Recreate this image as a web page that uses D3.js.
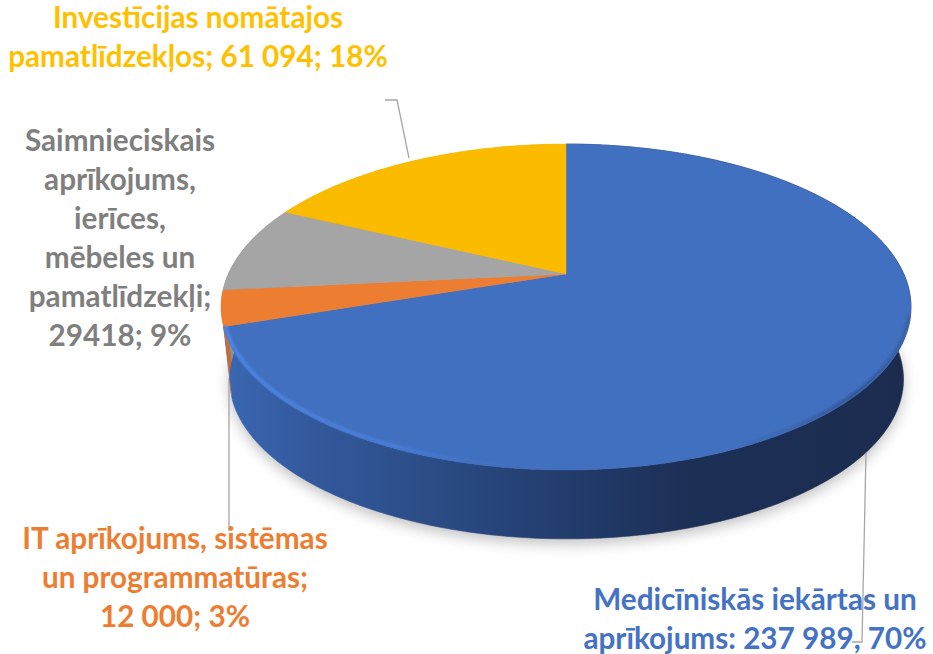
<!DOCTYPE html>
<html><head><meta charset="utf-8">
<style>html,body{margin:0;background:#fff}svg{display:block}text{font-family:Lato,"Open Sans",sans-serif;font-weight:700;text-anchor:middle}</style>
<script src="https://cdn.jsdelivr.net/npm/d3@7"></script></head><body>
<script>
const categories = ["Medicīniskās iekārtas un aprīkojums","IT aprīkojums, sistēmas un programmatūras","Saimnieciskais aprīkojums, ierīces, mēbeles un pamatlīdzekļi","Investīcijas nomātajos pamatlīdzekļos"];
const values = [237989,12000,29418,61094];
const colors = ["#4270C0","#ED7D31","#A5A5A5","#FBBC00"];
const labelColors = ["#4472C4","#ED7D31","#7F7F7F","#FFC000"];
const labelLines = [
 ["Medicīniskās iekārtas un","aprīkojums: 237 989, 70%"],
 ["IT aprīkojums, sistēmas","un programmatūras;","12 000; 3%"],
 ["Saimnieciskais","aprīkojums,","ierīces,","mēbeles un","pamatlīdzekļi;","29418; 9%"],
 ["Investīcijas nomātajos","pamatlīdzekļos; 61 094; 18%"]];

const W=933,H=654;
const svg=d3.select("body").append("svg").attr("width",W).attr("height",H);
const defs=svg.append("defs");
defs.append("filter").attr("id","soft").attr("x","-10%").attr("y","-10%").attr("width","120%").attr("height","120%")
  .append("feGaussianBlur").attr("stdDeviation",7);
defs.append("filter").attr("id","rimblur").append("feGaussianBlur").attr("stdDeviation",1.1);
const side=defs.append("linearGradient").attr("id","side").attr("gradientUnits","userSpaceOnUse")
  .attr("x1",228).attr("x2",908).attr("y1",0).attr("y2",0);
[[0,"#3A66B2"],[0.12,"#33599C"],[0.3,"#2B4C86"],[0.5,"#223C6C"],[0.68,"#1C2F55"],[1,"#1B2C4F"]]
  .forEach(s=>side.append("stop").attr("offset",s[0]).attr("stop-color",s[1]));
const rim=defs.append("linearGradient").attr("id","rim").attr("gradientUnits","userSpaceOnUse")
  .attr("x1",226).attr("x2",910).attr("y1",0).attr("y2",0);
[[0,"#4D86E6",1],[0.25,"#4A7FDC",0.85],[0.42,"#4472C4",0],[0.75,"#1F3560",0],[0.92,"#1F3560",0.45],[1,"#1F3560",0.25]]
  .forEach(s=>rim.append("stop").attr("offset",s[0]).attr("stop-color",s[1]).attr("stop-opacity",s[2]));

// perspective projection of the disc: angle (clockwise from the top) -> screen
const k=0.2025;
const project=(cx,cy,A,B)=>t=>{const w=1+k*Math.cos(t);return [cx+A*Math.sin(t)/w, cy-B*Math.cos(t)/w];};
const topFace=project(566,274,337.8,156.3);
const bottomFace=project(566.5,347,330,153);

// the pie starts at 12 o'clock, clockwise
const arcs=d3.pie().sort(null).value(d=>d)(values);
const samples=(a,b)=>{const n=Math.max(2,Math.ceil((b-a)/0.01));return d3.range(n+1).map(i=>a+(b-a)*i/n);};
const line=d3.line();

// soft shadow
svg.append("path").attr("d",line(samples(0,2*Math.PI).map(t=>{const p=bottomFace(t);return [p[0],p[1]+5];}))+"Z")
  .attr("fill","#8c8c8c").attr("opacity",0.55).attr("filter","url(#soft)");

// leader lines
const leaders=[[[866,453],[862,642],[852,642]],[[229,378],[229,531]],[[409,158],[397,100],[385,100]]];
svg.append("g").selectAll("path").data(leaders).join("path").attr("d",line).attr("fill","none")
  .attr("stroke","#A6A6A6").attr("stroke-width",1.3);

// sides
svg.append("g").selectAll("path").data(arcs).join("path")
  .attr("d",d=>{const s=samples(d.startAngle,d.endAngle);return line(s.map(topFace).concat(s.slice().reverse().map(bottomFace)))+"Z";})
  .attr("fill",(d,i)=>i===0?"url(#side)":d3.color(colors[i]).darker(0.4))
  .attr("stroke",(d,i)=>i===0?"url(#side)":"none").attr("stroke-width",0.6);

// top faces
svg.append("g").selectAll("path").data(arcs).join("path")
  .attr("d",d=>line([[566,274]].concat(samples(d.startAngle,d.endAngle).map(topFace)))+"Z")
  .attr("fill",(d,i)=>colors[i]).attr("stroke",(d,i)=>colors[i]).attr("stroke-width",0.4);

// bevel along the front rim of the largest slice
const inner=t=>{const p=topFace(t);return [566+(p[0]-566)*0.995,274+(p[1]-274)*0.988];};
svg.append("path").attr("d",line(samples(Math.PI*0.58,arcs[0].endAngle).map(inner)))
  .attr("fill","none").attr("stroke","url(#rim)").attr("stroke-width",3.5).attr("filter","url(#rimblur)");

// labels
const fs=29.7, lh=39;
const labelPos=[[755,610],[175,549],[120,151],[198,28]];
const g=svg.append("g").style("font-size",fs+"px");
labelLines.forEach((lines,i)=>{
  const t=g.append("text").attr("fill",labelColors[i]);
  lines.forEach((s,j)=>t.append("tspan").attr("x",labelPos[i][0]).attr("y",labelPos[i][1]+j*lh).text(s));
});
</script></body></html>
